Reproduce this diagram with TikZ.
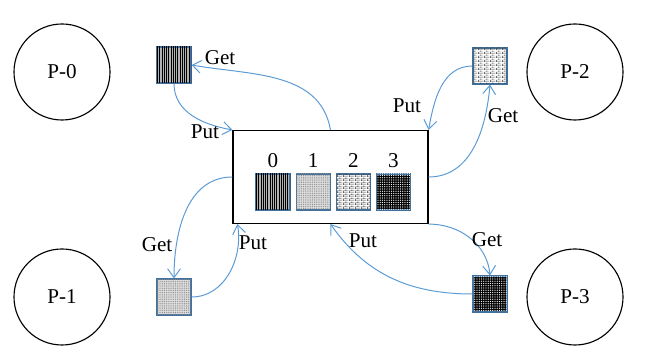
\documentclass[tikz,border=0pt]{standalone}
\usepackage{fontspec}
\setmainfont{Liberation Serif}
\usepackage{tikz}
\usetikzlibrary{positioning,arrows.meta,patterns,patterns.meta,calc}
\definecolor{flow}{HTML}{5B9BD5}
\definecolor{bufline}{HTML}{41719C}
\pgfdeclarepatternformonly{smallbricks}{\pgfpointorigin}{\pgfpoint{4pt}{3pt}}{\pgfpoint{4pt}{3pt}}{
	\pgfsetlinewidth{0.35pt}
	\pgfpathmoveto{\pgfpoint{0pt}{0.2pt}}\pgfpathlineto{\pgfpoint{4pt}{0.2pt}}
	\pgfpathmoveto{\pgfpoint{0pt}{1.7pt}}\pgfpathlineto{\pgfpoint{4pt}{1.7pt}}
	\pgfpathmoveto{\pgfpoint{0.2pt}{0.2pt}}\pgfpathlineto{\pgfpoint{0.2pt}{1.7pt}}
	\pgfpathmoveto{\pgfpoint{2.2pt}{1.7pt}}\pgfpathlineto{\pgfpoint{2.2pt}{3pt}}
	\pgfusepath{stroke}
}
\tikzset{
	queue/.style={x=0.025cm,y=0.025cm,font=\fontsize{15}{17}\selectfont},
	proc/.style={circle,draw,thick,minimum size=2.4cm,inner sep=0pt},
	mem/.style={draw,thick,minimum width=4.875cm,minimum height=2.325cm,inner sep=0pt},
	buf/.style={draw=bufline,line width=0.8pt,minimum width=0.85cm,minimum height=0.9cm,inner sep=0pt},
	stripes/.style={fill=gray!60,postaction={pattern={Lines[angle=90,distance=1.6pt,line width=0.7pt]}}},
	waves/.style={fill=gray!25,postaction={pattern={Dots[distance=1.3pt,radius=0.4pt]},pattern color=gray!90}},
	wall/.style={fill=white,postaction={pattern=smallbricks,pattern color=black!75}},
	speck/.style={fill=black,postaction={pattern={Dots[distance=1.6pt,radius=0.5pt]},pattern color=white}},
	flow/.style={draw=flow,line width=0.7pt,-{Straight Barb[length=2.2mm,width=3.2mm]}},
	lbl/.style={inner sep=1pt}
}

\begin{document}
\begin{tikzpicture}[queue]
	\useasboundingbox (0,0) rectangle (652,360);

	\node[proc] (p0) at (62,288) {P-0};
	\node[proc] (p2) at (575,288) {P-2};
	\node[proc] (p1) at (62,63) {P-1};
	\node[proc] (p3) at (575,63) {P-3};

	\node[mem] (m) at (330.5,183) {};
	\node[buf,stripes] (s0) at (273,168) {};
	\node[buf,waves] (s1) [right=0.125cm of s0] {};
	\node[buf,wall] (s2) [right=0.125cm of s1] {};
	\node[buf,speck] (s3) [right=0.125cm of s2] {};
	\node (n0) [above=0.02cm of s0] {0};
	\node (n1) [above=0.02cm of s1] {1};
	\node (n2) [above=0.02cm of s2] {2};
	\node (n3) [above=0.02cm of s3] {3};

	\node[buf,stripes] (b0) at (174,295) {};
	\node[buf,wall] (b2) at (490,294) {};
	\node[buf,waves] (b1) at (174,63) {};
	\node[buf,speck] (b3) at (490,66) {};

	\draw[flow] (m.north) to[out=100,in=-10] (b0.east);
	\draw[flow] (b0.south) to[out=-90,in=170] (m.north west);
	\draw[flow] (b2.west) to[out=180,in=80] (m.north east);
	\draw[flow] (m.east) to[out=0,in=-95] (b2.south);
	\draw[flow] (m.west) to[out=180,in=90] (b1.north);
	\draw[flow] (b1.east) to[out=0,in=-80] ($(m.south west)+(5,0)$);
	\draw[flow] (m.south east) to[out=0,in=95] (b3.north);
	\draw[flow] (b3.west) to[out=180,in=-55] (m.south);

	\node[lbl] (g0) at (220,302) {Get};
	\node[lbl] (u0) at (205,228) {Put};
	\node[lbl] (u2) at (407,254) {Put};
	\node[lbl] (g2) at (503,244) {Get};
	\node[lbl] (g1) at (157,115) {Get};
	\node[lbl] (u1) at (253,117) {Put};
	\node[lbl] (g3) at (487,120) {Get};
	\node[lbl] (u3) at (363,119) {Put};
\end{tikzpicture}
\end{document}
